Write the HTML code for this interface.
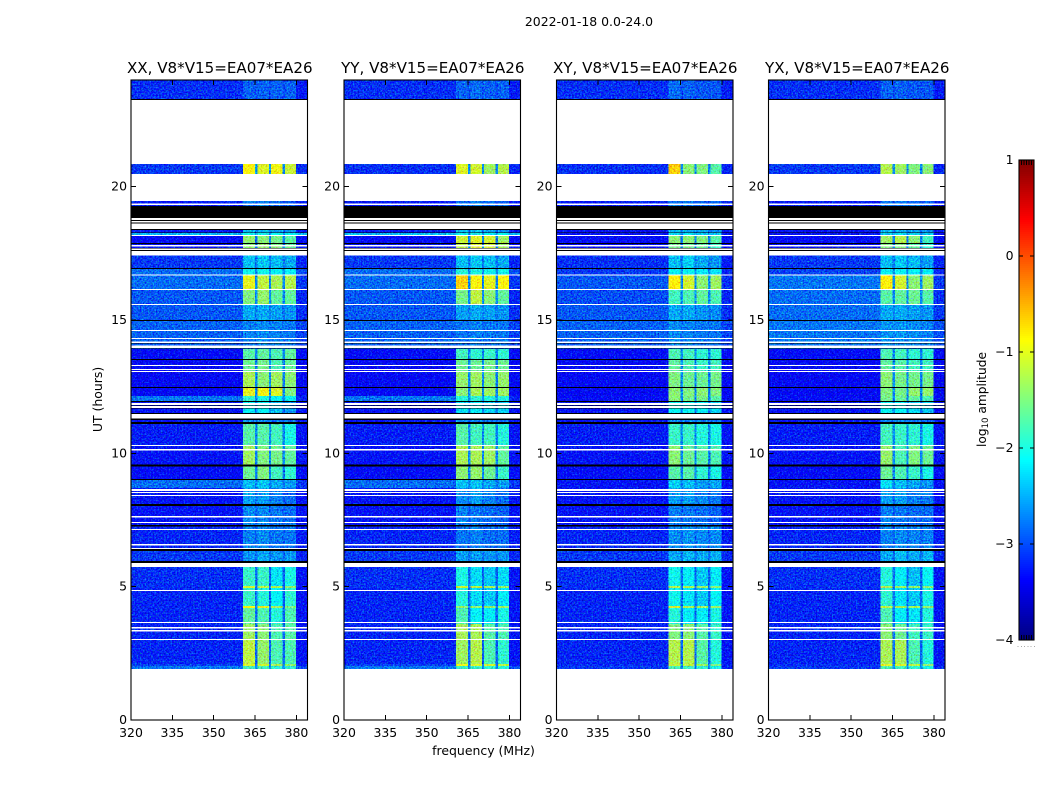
<!DOCTYPE html>
<html lang="en">
<head>
<meta charset="utf-8">
<title>2022-01-18 0.0-24.0</title>
<style>
html,body{margin:0;padding:0;background:#fff;}
svg{display:block;font-family:"DejaVu Sans","Liberation Sans",sans-serif;fill:#000;}
</style>
</head>
<body>
<svg id="figure" width="1050" height="800" xmlns="http://www.w3.org/2000/svg">
  <defs>
    <filter id="speckle" x="0" y="0" width="100%" height="100%" color-interpolation-filters="sRGB">
      <feTurbulence type="fractalNoise" baseFrequency="0.62" numOctaves="2" seed="11" result="n"/>
      <feColorMatrix in="n" type="matrix" result="tint" values="0.45 0 0 0 0.275  0 1.15 0 0 -0.075  0 0 1.0 0 0  0 0 0 0 1"/>
      <feComposite in="SourceGraphic" in2="tint" operator="arithmetic" k1="0" k2="1" k3="1" k4="-0.5" result="mix"/>
      <feComposite in="mix" in2="SourceGraphic" operator="in"/>
    </filter>
  </defs>
  <text x="589" y="26" font-size="12.45" text-anchor="middle">2022-01-18 0.0-24.0</text>
  <text x="483.5" y="755" font-size="12.45" text-anchor="middle">frequency (MHz)</text>
  <text transform="translate(102,399.5) rotate(-90)" font-size="12.45" text-anchor="middle">UT (hours)</text>
  <text transform="translate(986,399.5) rotate(-90)" font-size="12.2" text-anchor="middle">log<tspan font-size="8.6" dy="2">10</tspan><tspan dy="-2"> amplitude</tspan></text>
  <g id="panels"></g>
  <g id="colorbar"></g>
</svg>
<script>
// ---- data (log10 amplitude, frequency in MHz, time in UT hours) ----
const panelTitles = ['XX, V8*V15=EA07*EA26', 'YY, V8*V15=EA07*EA26', 'XY, V8*V15=EA07*EA26', 'YX, V8*V15=EA07*EA26'];
const freqEdges = [320, 360.6, 365, 365.8, 370, 370.7, 375, 375.8, 379.9, 384];
const timeTop = [24.00,23.28,20.85,20.475,19.46,19.275,18.41,18.26,18.15,17.89,17.59,17.41,16.95,16.71,16.16,15.60,15.00,13.91,13.54,13.05,12.49,12.15,11.96,11.51,11.29,11.10,10.31,9.56,9.00,8.70,8.10,7.31,6.41,5.74,5.03,4.95,4.275,4.20,3.60,3.04,2.10,2.025];
const timeBottom = [23.28,20.85,20.475,19.46,19.275,18.41,18.26,18.15,17.89,17.59,17.41,16.95,16.71,16.16,15.60,15.00,13.91,13.54,13.05,12.49,12.15,11.96,11.51,11.29,11.10,10.31,9.56,9.00,8.70,8.10,7.31,6.41,5.74,5.03,4.95,4.275,4.20,3.60,3.04,2.10,2.025,1.91];

const xxValues = [
[-3.15,-2.9,-3.0,-2.9,-3.0,-2.9,-3.0,-2.9,-3.25],
null,
[-3.1,-0.9,-2.6,-1.05,-2.6,-0.95,-2.7,-1.15,-3.15],
null,
[-3.25,-2.8,-2.95,-2.75,-2.95,-2.85,-3.0,-2.9,-3.25],
null,
[-3.25,-2.45,-2.8,-2.45,-2.8,-2.55,-2.85,-2.65,-3.25],
[-2.45,-2.05,-2.6,-2.05,-2.6,-2.15,-2.6,-2.15,-2.45],
[-3.35,-1.4,-2.8,-1.45,-2.8,-1.55,-2.8,-1.7,-3.35],
[-3.3,-1.45,-2.8,-1.4,-2.8,-1.5,-2.8,-1.65,-3.3],
null,
[-3.1,-2.45,-2.8,-2.4,-2.8,-2.45,-2.8,-2.55,-3.2],
[-2.85,-2.05,-2.7,-2.05,-2.7,-2.15,-2.7,-2.15,-3.0],
[-2.85,-1.0,-2.7,-1.2,-2.7,-1.3,-2.7,-1.25,-3.1],
[-2.95,-1.5,-2.7,-1.4,-2.7,-1.65,-2.7,-1.65,-3.2],
[-2.95,-2.55,-2.75,-2.55,-2.75,-2.6,-2.8,-2.65,-3.15],
[-2.9,-2.75,-2.8,-2.7,-2.8,-2.75,-2.8,-2.8,-3.05],
[-3.35,-1.7,-2.7,-1.65,-2.7,-1.75,-2.75,-1.65,-3.35],
[-3.4,-1.6,-2.7,-1.55,-2.7,-1.75,-2.75,-1.65,-3.4],
[-3.4,-1.3,-2.7,-1.45,-2.7,-1.35,-2.75,-1.45,-3.4],
[-3.4,-1.0,-2.7,-0.95,-2.7,-1.05,-2.75,-1.5,-3.4],
[-2.8,-1.9,-2.7,-2.0,-2.7,-2.1,-2.75,-2.1,-3.2],
[-3.3,-2.2,-2.7,-2.15,-2.75,-2.45,-2.8,-2.65,-3.3],
[-3.3,-2.6,-2.8,-2.6,-2.8,-2.7,-2.85,-2.8,-3.3],
[-3.3,-2.7,-2.85,-2.7,-2.85,-2.8,-2.9,-2.85,-3.3],
[-3.25,-1.7,-2.7,-1.7,-2.7,-1.8,-2.75,-2.0,-3.3],
[-3.3,-1.35,-2.7,-1.5,-2.7,-1.55,-2.75,-1.65,-3.3],
[-3.35,-1.6,-2.75,-1.5,-2.75,-1.8,-2.8,-1.9,-3.35],
[-2.85,-2.45,-2.75,-2.4,-2.75,-2.55,-2.8,-2.6,-3.1],
[-3.3,-2.6,-2.85,-2.6,-2.85,-2.75,-2.9,-2.85,-3.3],
[-3.3,-2.7,-2.9,-2.7,-2.9,-2.8,-2.9,-2.85,-3.3],
[-3.2,-2.75,-2.9,-2.7,-2.9,-2.8,-2.9,-2.8,-3.25],
[-3.1,-2.65,-2.85,-2.55,-2.85,-2.65,-2.85,-2.65,-3.2],
[-3.15,-1.85,-2.85,-1.85,-2.9,-2.25,-2.9,-2.0,-3.3],
[-3.15,-1.1,-2.7,-1.2,-2.7,-1.3,-2.75,-1.4,-3.3],
[-3.2,-1.85,-2.85,-1.95,-2.9,-2.15,-2.9,-1.9,-3.3],
[-3.2,-0.9,-2.7,-1.0,-2.7,-1.3,-2.75,-1.5,-3.3],
[-3.2,-1.65,-2.85,-1.75,-2.9,-1.95,-2.9,-1.75,-3.3],
[-3.2,-1.35,-2.85,-1.45,-2.9,-1.75,-2.9,-1.7,-3.3],
[-3.2,-1.2,-2.85,-1.4,-2.9,-1.75,-2.9,-1.75,-3.3],
[-3.05,-1.05,-2.7,-1.1,-2.7,-1.3,-2.75,-1.4,-3.25],
[-2.8,-1.8,-2.7,-1.8,-2.7,-1.9,-2.7,-1.9,-3.0]
];

const yyValues = [
[-3.15,-2.9,-3.0,-2.85,-3.0,-2.9,-3.0,-2.9,-3.25],
null,
[-3.15,-1.05,-2.7,-1.1,-2.7,-1.35,-2.75,-1.25,-3.2],
null,
[-3.25,-2.8,-2.95,-2.75,-2.95,-2.85,-3.0,-2.9,-3.25],
null,
[-3.25,-2.45,-2.8,-2.45,-2.8,-2.55,-2.85,-2.65,-3.25],
[-2.45,-2.05,-2.6,-2.05,-2.6,-2.15,-2.6,-2.15,-2.45],
[-3.35,-1.15,-2.8,-1.05,-2.8,-1.1,-2.8,-1.35,-3.35],
[-3.3,-1.2,-2.8,-1.05,-2.8,-1.1,-2.8,-1.35,-3.3],
null,
[-3.1,-2.45,-2.8,-2.4,-2.8,-2.45,-2.8,-2.55,-3.2],
[-2.85,-1.95,-2.7,-2.0,-2.7,-2.05,-2.7,-2.05,-3.0],
[-2.85,-0.65,-2.7,-0.9,-2.7,-1.0,-2.7,-0.9,-3.1],
[-2.95,-1.55,-2.7,-1.2,-2.7,-1.45,-2.7,-1.65,-3.2],
[-2.95,-2.6,-2.75,-2.55,-2.75,-2.6,-2.8,-2.65,-3.15],
[-2.9,-2.8,-2.85,-2.75,-2.85,-2.8,-2.85,-2.8,-3.05],
[-3.35,-1.8,-2.75,-1.9,-2.75,-1.85,-2.75,-1.9,-3.35],
[-3.4,-1.6,-2.7,-1.6,-2.7,-1.55,-2.75,-1.6,-3.4],
[-3.4,-1.4,-2.7,-1.35,-2.7,-1.45,-2.75,-1.4,-3.4],
[-3.4,-1.45,-2.7,-1.3,-2.7,-1.35,-2.75,-1.35,-3.4],
[-2.8,-1.95,-2.7,-1.9,-2.7,-1.95,-2.75,-1.95,-3.2],
[-3.3,-2.3,-2.7,-2.2,-2.75,-2.35,-2.8,-2.35,-3.3],
[-3.3,-2.6,-2.8,-2.6,-2.8,-2.7,-2.85,-2.8,-3.3],
[-3.3,-2.7,-2.85,-2.7,-2.85,-2.8,-2.9,-2.85,-3.3],
[-3.25,-1.7,-2.7,-1.8,-2.7,-1.8,-2.75,-1.95,-3.3],
[-3.3,-1.3,-2.7,-1.3,-2.7,-1.35,-2.75,-1.65,-3.3],
[-3.35,-1.45,-2.75,-1.4,-2.75,-1.6,-2.8,-1.85,-3.35],
[-2.85,-2.45,-2.75,-2.4,-2.75,-2.55,-2.8,-2.6,-3.1],
[-3.3,-2.7,-2.85,-2.6,-2.85,-2.75,-2.9,-2.85,-3.3],
[-3.3,-2.75,-2.9,-2.8,-2.9,-2.85,-2.9,-2.9,-3.3],
[-3.2,-2.8,-2.9,-2.75,-2.9,-2.85,-2.9,-2.85,-3.25],
[-3.1,-2.6,-2.85,-2.6,-2.85,-2.65,-2.85,-2.65,-3.2],
[-3.15,-2.0,-2.85,-2.3,-2.9,-2.4,-2.9,-2.3,-3.3],
[-3.15,-1.1,-2.7,-1.2,-2.7,-1.3,-2.75,-1.4,-3.3],
[-3.2,-1.95,-2.85,-2.3,-2.9,-2.4,-2.9,-2.2,-3.3],
[-3.2,-1.4,-2.7,-1.4,-2.7,-1.4,-2.75,-1.4,-3.3],
[-3.2,-1.75,-2.85,-2.15,-2.9,-2.2,-2.9,-2.0,-3.3],
[-3.2,-1.3,-2.85,-1.3,-2.9,-1.7,-2.9,-1.75,-3.3],
[-3.2,-1.35,-2.85,-1.25,-2.9,-1.75,-2.9,-1.9,-3.3],
[-3.05,-0.95,-2.7,-1.05,-2.7,-1.1,-2.75,-1.2,-3.25],
[-2.8,-1.85,-2.7,-1.85,-2.7,-1.9,-2.7,-1.95,-3.0]
];

const xyValues = [
[-3.15,-2.85,-3.0,-2.9,-3.0,-2.95,-3.0,-2.95,-3.25],
null,
[-3.15,-0.65,-2.7,-1.45,-2.7,-1.5,-2.75,-1.7,-3.2],
null,
[-3.25,-2.8,-2.95,-2.8,-2.95,-2.85,-3.0,-2.9,-3.25],
null,
[-3.3,-2.45,-2.8,-2.5,-2.8,-2.55,-2.85,-2.65,-3.3],
[-3.3,-2.3,-2.6,-2.3,-2.6,-2.4,-2.6,-2.4,-3.3],
[-3.35,-1.45,-2.8,-1.45,-2.8,-1.5,-2.8,-1.7,-3.35],
[-3.35,-1.55,-2.8,-1.6,-2.8,-1.65,-2.8,-1.8,-3.35],
null,
[-3.15,-2.45,-2.8,-2.35,-2.8,-2.55,-2.8,-2.65,-3.25],
[-3.1,-2.15,-2.7,-2.1,-2.7,-2.2,-2.7,-2.25,-3.2],
[-2.95,-0.85,-2.7,-1.1,-2.7,-1.45,-2.7,-1.35,-3.15],
[-3.0,-1.8,-2.7,-1.75,-2.7,-1.65,-2.7,-1.75,-3.2],
[-2.95,-2.55,-2.75,-2.55,-2.75,-2.65,-2.8,-2.7,-3.15],
[-2.9,-2.7,-2.8,-2.75,-2.8,-2.8,-2.8,-2.8,-3.05],
[-3.35,-1.75,-2.7,-1.8,-2.7,-1.9,-2.75,-1.9,-3.35],
[-3.4,-1.65,-2.7,-1.75,-2.7,-1.85,-2.75,-1.8,-3.4],
[-3.4,-1.5,-2.7,-1.6,-2.7,-1.6,-2.75,-1.55,-3.4],
[-3.4,-1.45,-2.7,-1.5,-2.7,-1.45,-2.75,-1.5,-3.4],
[-3.35,-1.45,-2.7,-1.55,-2.7,-1.55,-2.75,-1.7,-3.35],
[-3.3,-2.1,-2.7,-2.1,-2.75,-2.2,-2.8,-2.35,-3.3],
[-3.3,-2.6,-2.8,-2.6,-2.8,-2.7,-2.85,-2.8,-3.3],
[-3.3,-2.7,-2.85,-2.7,-2.85,-2.8,-2.9,-2.85,-3.3],
[-3.25,-1.85,-2.7,-1.85,-2.7,-1.95,-2.75,-2.0,-3.3],
[-3.3,-1.45,-2.7,-1.6,-2.7,-1.7,-2.75,-1.75,-3.3],
[-3.35,-1.7,-2.75,-1.7,-2.75,-1.9,-2.8,-2.0,-3.35],
[-3.3,-2.35,-2.75,-2.45,-2.75,-2.6,-2.8,-2.55,-3.35],
[-3.3,-2.6,-2.85,-2.6,-2.85,-2.7,-2.9,-2.8,-3.3],
[-3.3,-2.75,-2.9,-2.8,-2.9,-2.85,-2.9,-2.9,-3.3],
[-3.2,-2.7,-2.9,-2.65,-2.9,-2.7,-2.9,-2.7,-3.25],
[-3.1,-2.55,-2.85,-2.5,-2.85,-2.55,-2.85,-2.5,-3.2],
[-3.15,-2.05,-2.85,-2.2,-2.9,-2.4,-2.9,-2.2,-3.3],
[-3.15,-1.25,-2.7,-1.3,-2.7,-1.35,-2.75,-1.45,-3.3],
[-3.2,-2.05,-2.85,-2.25,-2.9,-2.4,-2.9,-2.15,-3.3],
[-3.2,-1.1,-2.7,-1.25,-2.7,-1.3,-2.75,-1.35,-3.3],
[-3.2,-1.95,-2.85,-2.2,-2.9,-2.2,-2.9,-2.0,-3.3],
[-3.2,-1.5,-2.85,-1.45,-2.9,-1.7,-2.9,-1.85,-3.3],
[-3.2,-1.25,-2.85,-1.25,-2.9,-1.7,-2.9,-1.95,-3.3],
[-3.15,-1.15,-2.7,-1.2,-2.7,-1.35,-2.75,-1.5,-3.25],
[-3.1,-1.75,-2.75,-1.8,-2.75,-1.9,-2.75,-2.0,-3.2]
];

const yxValues = [
[-3.15,-2.9,-3.0,-2.9,-3.0,-2.95,-3.0,-2.95,-3.25],
null,
[-3.1,-1.25,-2.7,-1.35,-2.7,-1.5,-2.75,-1.45,-3.2],
null,
[-3.25,-2.8,-2.95,-2.8,-2.95,-2.85,-3.0,-2.9,-3.25],
null,
[-3.3,-2.45,-2.8,-2.5,-2.8,-2.55,-2.85,-2.65,-3.3],
[-3.3,-2.3,-2.6,-2.3,-2.6,-2.4,-2.6,-2.4,-3.3],
[-3.35,-1.35,-2.8,-1.25,-2.8,-1.45,-2.8,-1.8,-3.35],
[-3.35,-1.5,-2.8,-1.5,-2.8,-1.7,-2.8,-1.9,-3.35],
null,
[-3.1,-2.45,-2.8,-2.4,-2.8,-2.45,-2.8,-2.6,-3.2],
[-3.05,-2.15,-2.7,-2.1,-2.7,-2.15,-2.7,-2.2,-3.2],
[-2.8,-0.85,-2.7,-1.1,-2.7,-1.45,-2.7,-1.35,-3.1],
[-2.85,-1.7,-2.7,-1.65,-2.7,-1.6,-2.7,-1.7,-3.15],
[-2.85,-2.55,-2.7,-2.55,-2.7,-2.6,-2.75,-2.65,-3.1],
[-2.8,-2.65,-2.75,-2.65,-2.75,-2.7,-2.75,-2.75,-3.0],
[-3.35,-1.75,-2.7,-1.8,-2.7,-1.9,-2.75,-1.9,-3.35],
[-3.4,-1.65,-2.7,-1.7,-2.7,-1.8,-2.75,-1.8,-3.4],
[-3.4,-1.45,-2.7,-1.55,-2.7,-1.55,-2.75,-1.55,-3.4],
[-3.4,-1.5,-2.7,-1.55,-2.7,-1.4,-2.75,-1.4,-3.4],
[-3.35,-1.55,-2.7,-1.6,-2.7,-1.65,-2.75,-1.75,-3.35],
[-3.3,-2.1,-2.7,-2.15,-2.75,-2.3,-2.8,-2.4,-3.3],
[-3.3,-2.6,-2.8,-2.6,-2.8,-2.7,-2.85,-2.8,-3.3],
[-3.3,-2.7,-2.85,-2.7,-2.85,-2.8,-2.9,-2.85,-3.3],
[-3.25,-1.8,-2.7,-1.85,-2.7,-1.9,-2.75,-2.0,-3.3],
[-3.3,-1.4,-2.7,-1.75,-2.7,-1.5,-2.75,-1.6,-3.3],
[-3.35,-1.6,-2.75,-1.75,-2.75,-1.85,-2.8,-2.0,-3.35],
[-3.3,-2.25,-2.75,-2.45,-2.75,-2.55,-2.8,-2.65,-3.35],
[-3.3,-2.6,-2.85,-2.6,-2.85,-2.75,-2.9,-2.8,-3.3],
[-3.3,-2.75,-2.9,-2.8,-2.9,-2.85,-2.9,-2.85,-3.3],
[-3.2,-2.75,-2.9,-2.7,-2.9,-2.75,-2.9,-2.75,-3.25],
[-3.1,-2.55,-2.85,-2.45,-2.85,-2.55,-2.85,-2.5,-3.2],
[-3.15,-1.95,-2.85,-2.2,-2.9,-2.45,-2.9,-2.1,-3.3],
[-3.15,-1.25,-2.7,-1.35,-2.7,-1.4,-2.75,-1.45,-3.3],
[-3.2,-1.9,-2.85,-2.25,-2.9,-2.4,-2.9,-2.0,-3.3],
[-3.2,-1.2,-2.7,-1.3,-2.7,-1.35,-2.75,-1.4,-3.3],
[-3.2,-1.75,-2.85,-2.2,-2.9,-2.25,-2.9,-1.95,-3.3],
[-3.2,-1.45,-2.85,-1.6,-2.9,-1.8,-2.9,-1.85,-3.3],
[-3.2,-1.3,-2.85,-1.3,-2.9,-1.75,-2.9,-1.95,-3.3],
[-3.15,-1.0,-2.7,-1.05,-2.7,-1.2,-2.75,-1.4,-3.25],
[-3.1,-1.75,-2.75,-1.8,-2.75,-1.9,-2.75,-2.0,-3.2]
];

// flagged integrations: start / end in UT hours. White = no data, black = zero amplitude.
const whiteFlagStart = [19.369,18.188,17.813,17.681,16.706,16.163,15.6,14.625,14.325,14.194,14.044,13.313,13.163,13.088,11.888,11.775,11.475,10.313,10.163,8.663,8.55,8.438,7.65,7.425,7.163,6.6,6.45,5.888,4.875,3.675,3.488,3.375,3.038];
const whiteFlagEnd = [19.313,18.15,17.756,17.625,16.669,16.125,15.563,14.588,14.288,14.138,13.95,13.275,13.125,13.05,11.813,11.7,11.306,10.275,10.114,8.588,8.513,8.4,7.594,7.388,7.125,6.544,6.413,5.738,4.838,3.638,3.424,3.319,3];
const blackFlagStart = [23.2875,19.275,18.75,18.656,18.413,18.281,17.888,17.7,17.625,16.95,15,14.138,13.931,13.538,12.488,11.963,11.794,11.7,11.513,11.306,11.175,9.581,9.038,8.1,7.313,6.413,5.963];
const blackFlagEnd = [23.25,18.825,18.713,18.619,18.375,18.263,17.85,17.681,17.588,16.913,14.963,14.119,13.913,13.5,12.45,11.925,11.775,11.681,11.475,11.25,11.1,9.506,9,8.025,7.249,6.338,5.888];

const xTickLabels = [320, 335, 350, 365, 380];
const yTickLabels = [0, 5, 10, 15, 20];
const colorbarTickLabels = [1, 0, -1, -2, -3, -4];

// ---- layout ----
const svgNS = 'http://www.w3.org/2000/svg';
const panelValues = [xxValues, yyValues, xyValues, yxValues];
const panelSlugs = ['xx', 'yy', 'xy', 'yx'];
const panelLeft = [131, 344, 556.5, 768.5];
const panelW = 176.5, plotTop = 80, plotBottom = 720;
const fMin = 320, fMax = 384, tMin = 0, tMax = 24, vMin = -4, vMax = 1;
const cbLeft = 1019, cbRight = 1034, cbTop = 160, cbBottom = 640;

function xScale(p, f) { return panelLeft[p] + (f - fMin) / (fMax - fMin) * panelW; }
function yScale(t) { return plotBottom - (t - tMin) / (tMax - tMin) * (plotBottom - plotTop); }
function cbScale(v) { return cbBottom - (v - vMin) / (vMax - vMin) * (cbBottom - cbTop); }
function jet(v) {
  const t = Math.max(0, Math.min(1, (v - vMin) / (vMax - vMin)));
  const ramp = function (c) { return Math.round(255 * Math.max(0, Math.min(1, 1.5 - Math.abs(4 * t - c)))); };
  return 'rgb(' + ramp(3) + ',' + ramp(2) + ',' + ramp(1) + ')';
}
function mk(tag, parent) {
  const el = document.createElementNS(svgNS, tag);
  parent.appendChild(el);
  return el;
}
function box(el, x, y, w, h, fill) {
  el.setAttribute('x', x);
  el.setAttribute('y', y);
  el.setAttribute('width', w);
  el.setAttribute('height', h);
  el.setAttribute('fill', fill);
  el.setAttribute('shape-rendering', 'crispEdges');
}
function line(el, x1, y1, x2, y2) {
  el.setAttribute('x1', x1);
  el.setAttribute('y1', y1);
  el.setAttribute('x2', x2);
  el.setAttribute('y2', y2);
  el.setAttribute('stroke', '#000');
  el.setAttribute('stroke-width', '1');
  el.setAttribute('shape-rendering', 'crispEdges');
}
function label(el, x, y, anchor, size, str) {
  el.setAttribute('x', x);
  el.setAttribute('y', y);
  el.setAttribute('text-anchor', anchor);
  el.setAttribute('font-size', size);
  el.textContent = str;
}

const panelsRoot = document.getElementById('panels');
panelValues.forEach(function (rows, p) {
  const g = mk('g', panelsRoot);
  
  

  const L = panelLeft[p], R = L + panelW;

  const heat = mk('g', g);
  
  
  heat.setAttribute('filter', 'url(#speckle)');
  rows.forEach(function (row, r) {
    if (!row) return;
    row.forEach(function (val, c) {
      const cell = mk('rect', heat);
      
      
      const x0 = xScale(p, freqEdges[c]), x1 = xScale(p, freqEdges[c + 1]);
      const y0 = yScale(timeTop[r]), y1 = yScale(timeBottom[r]);
      box(cell, x0, y0, x1 - x0, y1 - y0, jet(val));
    });
  });

  whiteFlagStart.forEach(function (t, i) {
    const flag = mk('rect', g);
    
    
    box(flag, L, yScale(t), panelW, yScale(whiteFlagEnd[i]) - yScale(t), '#fff');
  });
  blackFlagStart.forEach(function (t, i) {
    const flag = mk('rect', g);
    
    
    box(flag, L, yScale(t), panelW, yScale(blackFlagEnd[i]) - yScale(t), '#000');
  });

  xTickLabels.forEach(function (f) {
    const x = xScale(p, f);
    const t1 = mk('line', g);
    
    
    line(t1, x, plotBottom, x, plotBottom - 5);
    const t2 = mk('line', g);
    
    
    line(t2, x, plotTop, x, plotTop + 5);
    const tx = mk('text', g);
    
    
    label(tx, x, 737, 'middle', 12.45, String(f));
  });
  yTickLabels.forEach(function (t) {
    const y = yScale(t);
    const t1 = mk('line', g);
    
    
    line(t1, L, y, L + 5, y);
    const t2 = mk('line', g);
    
    
    line(t2, R, y, R - 5, y);
    const tx = mk('text', g);
    
    
    label(tx, L - 4, y + 4, 'end', 12.45, String(t));
  });

  const frame = mk('rect', g);
  
  
  frame.setAttribute('x', L);
  frame.setAttribute('y', plotTop);
  frame.setAttribute('width', panelW);
  frame.setAttribute('height', plotBottom - plotTop);
  frame.setAttribute('fill', 'none');
  frame.setAttribute('stroke', '#000');
  frame.setAttribute('stroke-width', '1.1');

  const title = mk('text', g);
  
  
  label(title, (L + R) / 2 + 0.5, 73, 'middle', 15.1, panelTitles[p]);
});

// ---- colorbar ----
const cb = document.getElementById('colorbar');
for (let py = cbTop; py < cbBottom; py += 2) {
  const strip = mk('rect', cb);
  
  
  box(strip, cbLeft, py, cbRight - cbLeft, 2, jet(vMax - (py + 1 - cbTop) / (cbBottom - cbTop) * (vMax - vMin)));
}
colorbarTickLabels.forEach(function (v) {
  const y = cbScale(v);
  const a = mk('line', cb);
  
  
  line(a, cbLeft, y, cbLeft + 4, y);
  const b = mk('line', cb);
  
  
  line(b, cbRight, y, cbRight - 4, y);
  const tx = mk('text', cb);
  
  
  label(tx, 1013.5, y + 4, 'end', 12.45, v < 0 ? '\u2212' + Math.abs(v) : String(v));
});
for (let k = 1; k <= 5; k++) {
  const x = cbLeft + k * (cbRight - cbLeft) / 6;
  const top = mk('line', cb);
  
  
  line(top, x, cbTop, x, cbTop + 5);
  const bot = mk('line', cb);
  
  
  line(bot, x, cbBottom, x, cbBottom - 5);
}
for (let k = 0; k <= 5; k++) {
  const dot = mk('rect', cb);
  
  
  box(dot, 1017.5 + k * 3.3, 646, 1, 1, '#aaa');
}
const cbFrame = mk('rect', cb);


cbFrame.setAttribute('x', cbLeft);
cbFrame.setAttribute('y', cbTop);
cbFrame.setAttribute('width', cbRight - cbLeft);
cbFrame.setAttribute('height', cbBottom - cbTop);
cbFrame.setAttribute('fill', 'none');
cbFrame.setAttribute('stroke', '#000');
cbFrame.setAttribute('stroke-width', '1.1');
</script>
</body>
</html>
